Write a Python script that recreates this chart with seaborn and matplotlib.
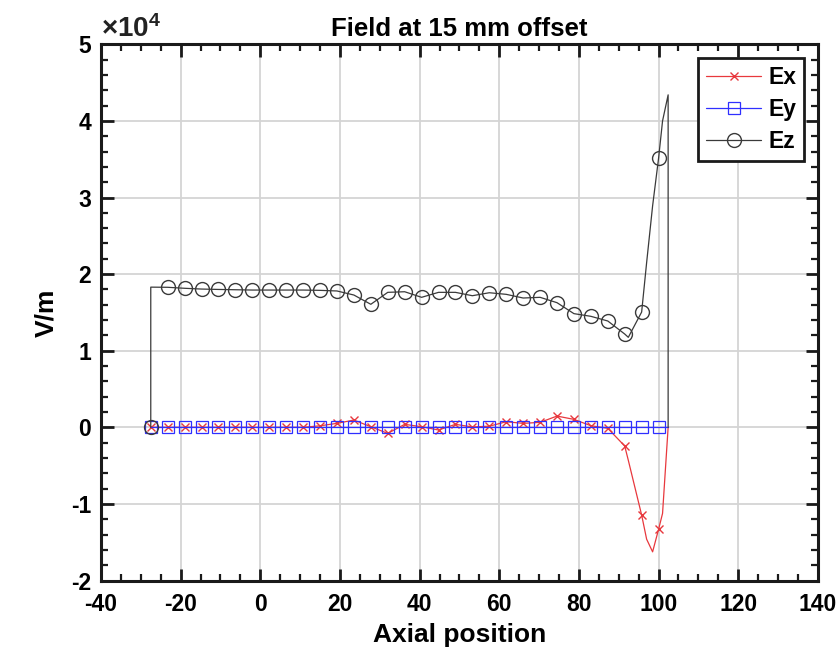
import numpy as np
import pandas as pd
import matplotlib
matplotlib.use("Agg")
import matplotlib.pyplot as plt
from matplotlib.ticker import MultipleLocator, FuncFormatter
import seaborn as sns

# ---- data ----
x_pos = [-27.5, -27.5, -23.25, -19.0, -14.75, -10.5, -6.25, -2.0, 2.25, 6.5,
         10.75, 15.0, 19.25, 23.5, 27.75, 32.0, 36.25, 40.5, 44.75, 49.0,
         53.25, 57.5, 61.75, 66.0, 70.25, 74.5, 78.75, 83.0, 87.25, 91.5,
         92.4, 95.75, 97.0, 98.5, 100.0, 101.0, 102.4, 102.4]
ex_vals = [0, 0, 0, 0, 0, 0, 0, 0, 0, 0,
           0, 200, 520, 950, 80, -790, 390, 80, -350, 390,
           50, 150, 730, 520, 650, 1470, 1040, 210, -130, -2440,
           -4300, -11450, -14600, -16250, -13320, -11230, 0, 0]
ey_vals = [0] * 38
ez_vals = [0, 18300, 18280, 18150, 18050, 18000, 17960, 17920, 17920, 17920,
           17920, 17880, 17800, 17270, 16060, 17620, 17700, 16970, 17620, 17620,
           17180, 17570, 17360, 16880, 16970, 16270, 14840, 14490, 13880, 12180,
           11750, 15050, 21500, 28900, 35120, 40000, 43400, 0]
marker_idx = [0] + list(range(2, 30)) + [31, 34]
series_names = ["Ex", "Ey", "Ez"]
x_ticks = [-40, -20, 0, 20, 40, 60, 80, 100, 120, 140]
y_ticks = [-20000, -10000, 0, 10000, 20000, 30000, 40000, 50000]

df = pd.DataFrame({"x": x_pos, "Ex": ex_vals, "Ey": ey_vals, "Ez": ez_vals})

sns.set_style("white")
plt.rcParams["font.family"] = ["Liberation Sans", "DejaVu Sans"]
plt.rcParams["font.weight"] = "bold"
plt.rcParams["text.color"] = "black"
plt.rcParams["axes.labelcolor"] = "black"
plt.rcParams["xtick.color"] = "black"
plt.rcParams["ytick.color"] = "black"
plt.rcParams["mathtext.fontset"] = "custom"
plt.rcParams["mathtext.rm"] = "Liberation Sans"
plt.rcParams["mathtext.bf"] = "Liberation Sans:bold"

fig = plt.figure(figsize=(8.38, 6.56), dpi=100)
ax = fig.add_axes([0.1205, 0.115, 0.8555, 0.8175])

styles = {
    "Ex": dict(color="#e8383d", marker="x", ms=6, mew=1.0, mfc="#e8383d"),
    "Ey": dict(color="#2f2fff", marker="s", ms=8, mew=0.9, mfc="none"),
    "Ez": dict(color="#3a3a3a", marker="o", ms=10, mew=1.0, mfc="none"),
}
for name in series_names:
    st = styles[name]
    sns.lineplot(data=df, x="x", y=name, ax=ax, sort=False, estimator=None,
                 label=name, color=st["color"], lw=0.9, marker=st["marker"],
                 markersize=st["ms"], markeredgewidth=st["mew"],
                 markerfacecolor=st["mfc"], markeredgecolor=st["color"],
                 markevery=marker_idx)

ax.set_xlim(-40, 140)
ax.set_ylim(-20000, 50000)
ax.set_xticks(x_ticks)
ax.set_yticks(y_ticks)
ax.xaxis.set_minor_locator(MultipleLocator(5))
ax.yaxis.set_minor_locator(MultipleLocator(2000))
ax.yaxis.set_major_formatter(FuncFormatter(lambda v, p: f"{v/1e4:g}"))
ax.xaxis.set_major_formatter(FuncFormatter(lambda v, p: f"{v:g}"))

ax.grid(True, which="major", color="#d4d4d4", lw=1.3)
ax.set_axisbelow(True)
for sp in ax.spines.values():
    sp.set_visible(True)
    sp.set_linewidth(2.2)
    sp.set_color("#1a1a1a")

ax.tick_params(which="both", direction="in", top=True, right=True,
               bottom=True, left=True, color="#1a1a1a")
ax.tick_params(which="major", length=9, width=2.0, labelsize=16.5)
ax.tick_params(axis="x", which="major", pad=9)
ax.tick_params(axis="y", which="major", pad=7)
ax.tick_params(which="minor", length=5, width=1.6)
for lab in ax.get_xticklabels() + ax.get_yticklabels():
    lab.set_fontweight("bold")

ax.set_xlabel("Axial position", fontsize=19, fontweight="bold", labelpad=5)
ax.set_ylabel("V/m", fontsize=19, fontweight="bold", labelpad=9)
ax.set_title("Field at 15 mm offset", fontsize=18.5, fontweight="bold", pad=6)
ax.text(0.0, 1.003, r"$\times\mathbf{10^{4}}$", transform=ax.transAxes,
        fontsize=20, color="#222222", ha="left", va="bottom")

leg = ax.legend(loc="upper right", prop={"weight": "bold", "size": 16.5},
                fancybox=False, framealpha=1, edgecolor="#1a1a1a",
                borderaxespad=0.6, handlelength=2.4, labelspacing=0.4,
                borderpad=0.35, handletextpad=0.3)
leg.get_frame().set_linewidth(2.0)

fig.savefig("out.png", dpi=100)
